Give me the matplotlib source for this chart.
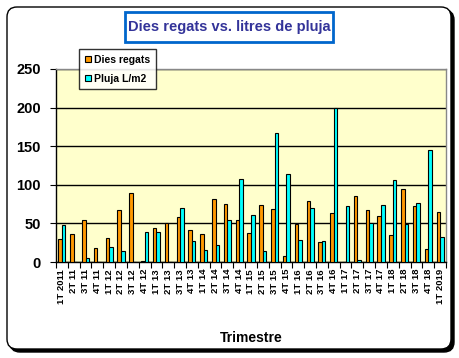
import matplotlib
matplotlib.use("Agg")
import matplotlib.pyplot as plt
import numpy as np
from matplotlib.patches import FancyBboxPatch, Rectangle, Patch

plt.rcParams["font.family"] = ["Liberation Sans", "DejaVu Sans"]
plt.rcParams["font.weight"] = "bold"

quarters = [
    "1T 2011", "2T 11", "3T 11", "4T 11",
    "1T 12", "2T 12", "3T 12", "4T 12",
    "1T 13", "2T 13", "3T 13", "4T 13",
    "1T 14", "2T 14", "3T 14", "4T 14",
    "1T 15", "2T 15", "3T 15", "4T 15",
    "1T 16", "2T 16", "3T 16", "4T 16",
    "1T 17", "2T 17", "3T 17", "4T 17",
    "1T 18", "2T 18", "3T 18", "4T 18",
    "1T 2019",
]
dies_regats = [30, 36, 54, 18, 31, 68, 89, 1, 44, 50, 58, 41, 36, 82, 75, 55,
               38, 74, 69, 8, 49, 79, 26, 64, 0, 85, 68, 59, 35, 95, 72, 17, 65]
pluja = [48, 0, 5, 0, 20, 14, 0, 39, 39, 0, 70, 27, 16, 22, 55, 108,
         61, 14, 167, 114, 29, 70, 27, 200, 73, 2, 50, 74, 106, 49, 77, 145, 32]

W, H = 460, 358
fig = plt.figure(figsize=(W / 100, H / 100), dpi=100)
fig.patch.set_facecolor("white")


def px(x, y):
    # pixel coords (from top-left) -> inches for dpi_scale_trans
    return x / 100, (H - y) / 100


# outer rounded frame with shadow
x0, y0 = px(7, 349)
x1, y1 = px(451, 7)
r = 0.10
shadow = FancyBboxPatch((x0 + r + 0.03, y0 + r - 0.03), (x1 - x0) - 2 * r, (y1 - y0) - 2 * r,
                        boxstyle=f"round,pad={r}", transform=fig.dpi_scale_trans,
                        facecolor="black", edgecolor="black", zorder=-3)
frame = FancyBboxPatch((x0 + r, y0 + r), (x1 - x0) - 2 * r, (y1 - y0) - 2 * r,
                       boxstyle=f"round,pad={r}", transform=fig.dpi_scale_trans,
                       facecolor="white", edgecolor="black", linewidth=1.0, zorder=-2)
fig.patches.extend([shadow, frame])

ax = fig.add_axes([56 / W, (H - 262) / H, 390 / W, 193 / H])
ax.set_facecolor("#FFFFCC")

x = np.arange(len(quarters))
w = 0.3
ax.bar(x - w / 2, dies_regats, w, color="#FF9900", edgecolor="black", linewidth=0.8, zorder=3)
ax.bar(x + w / 2, pluja, w, color="#00FFFF", edgecolor="black", linewidth=0.8, zorder=3)

ax.set_xlim(-0.5, len(quarters) - 0.5)
ax.set_ylim(0, 250)
ax.set_yticks([0, 50, 100, 150, 200, 250])
ax.yaxis.grid(True, color="black", linewidth=1.0, zorder=1)
ax.set_axisbelow(True)

ax.set_xticks(x)
ax.set_xticklabels(quarters, rotation=90, fontsize=6.8, fontweight="bold")
ax.set_xticks(np.arange(-0.5, len(quarters)), minor=True)
ax.tick_params(axis="x", which="major", length=0, pad=5)
ax.tick_params(axis="x", which="minor", length=4, width=0.8, direction="out")
ax.tick_params(axis="y", length=4, width=0.8, direction="out", labelsize=10.5, pad=7)
for lab in ax.get_yticklabels():
    lab.set_fontweight("bold")

for side in ("top", "right"):
    ax.spines[side].set_color("#888888")
    ax.spines[side].set_linestyle((0, (1, 1)))
    ax.spines[side].set_linewidth(1.0)
for side in ("left", "bottom"):
    ax.spines[side].set_color("black")
    ax.spines[side].set_linewidth(1.0)

ax.set_xlabel("Trimestre", fontsize=10, fontweight="bold", labelpad=19)

# title box
tx0, ty0 = px(125, 42)
fig.patches.append(Rectangle((tx0, ty0), 208 / 100, 30 / 100, transform=fig.dpi_scale_trans,
                             facecolor="white", edgecolor="#0066CC", linewidth=2, zorder=1))
fig.text(229 / W, 1 - 27 / H, "Dies regats vs. litres de pluja", ha="center", va="center",
         fontsize=10.5, fontweight="bold", color="#333399", zorder=2)

handles = [Patch(facecolor="#FF9900", edgecolor="black", linewidth=0.8),
           Patch(facecolor="#00FFFF", edgecolor="black", linewidth=0.8)]
leg = fig.legend(handles, ["Dies regats", "Pluja L/m2"], loc="upper left",
                 bbox_to_anchor=(79 / W, 1 - 49 / H), fontsize=7.5, frameon=True,
                 fancybox=False, edgecolor="black", handlelength=0.6, handleheight=0.6,
                 handletextpad=0.3, borderpad=0.55, labelspacing=0.85, borderaxespad=0)
leg.get_frame().set_linewidth(1.0)
leg.set_zorder(5)
for t in leg.get_texts():
    t.set_fontweight("bold")

fig.savefig("out.png", dpi=100)
